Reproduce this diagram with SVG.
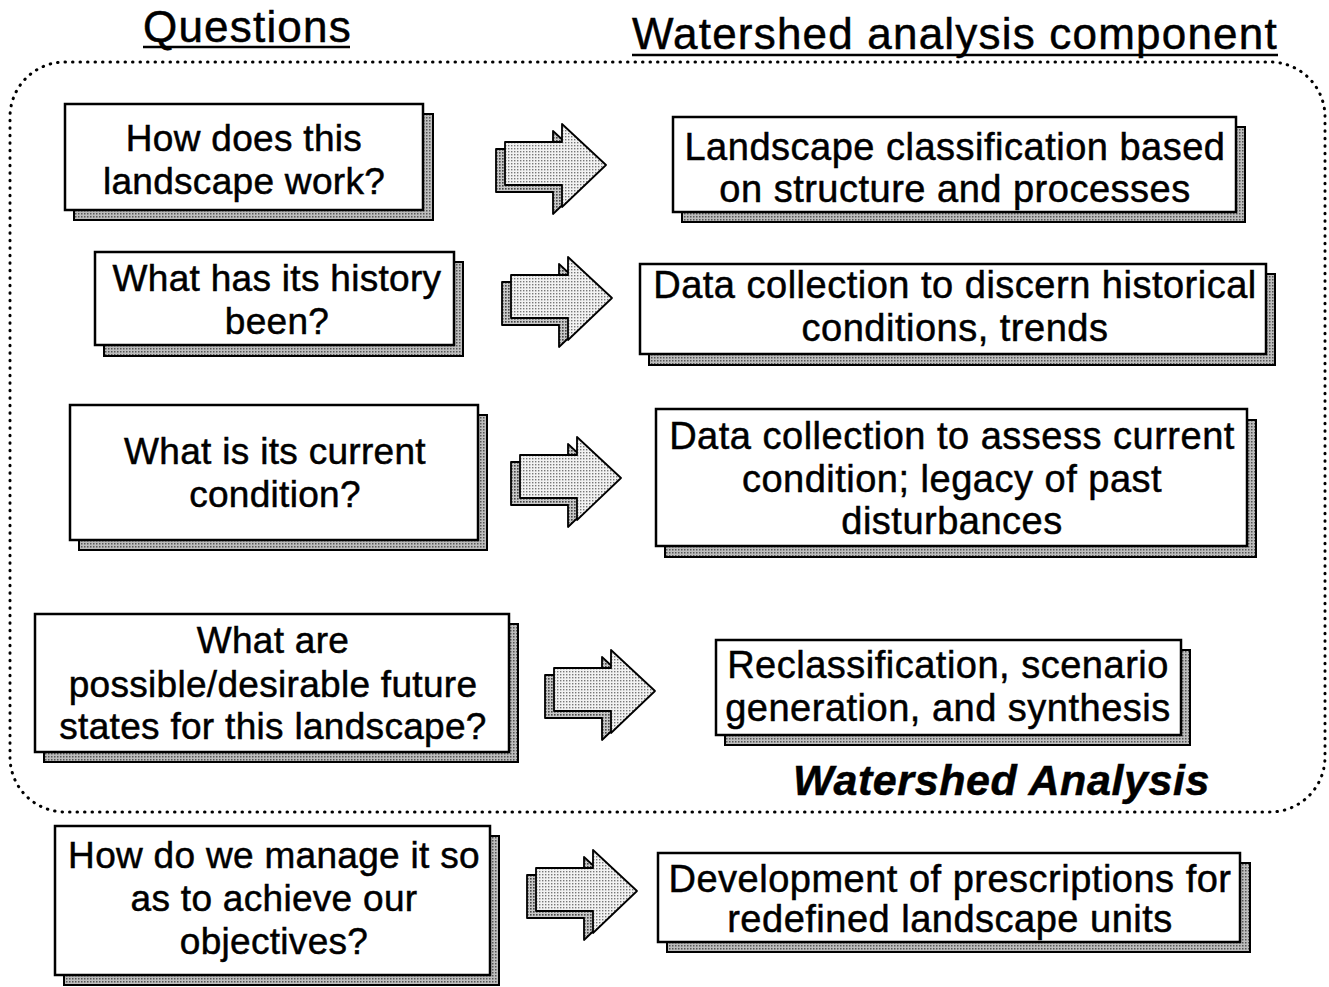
<svg xmlns="http://www.w3.org/2000/svg" width="1329" height="987" viewBox="0 0 1329 987">
<defs>
<pattern id="dots" width="3" height="3" patternUnits="userSpaceOnUse"><rect width="3" height="3" fill="#f2f2f2"/><rect width="1.4" height="1.4" fill="#777"/></pattern>
<pattern id="dotsDark" width="3" height="3" patternUnits="userSpaceOnUse"><rect width="3" height="3" fill="#c8c8c8"/><rect width="1.6" height="1.6" fill="#444"/></pattern>
<pattern id="shade" width="3" height="3" patternUnits="userSpaceOnUse"><rect width="3" height="3" fill="#bdbdbd"/><rect width="1.5" height="1.5" fill="#555"/></pattern>
<polygon id="arrowShape" points="0,18 57,18 57,0 101,41 57,83 57,61 0,61"/>
</defs>
<style>
text{font-family:"Liberation Sans",Arial,sans-serif;fill:#000;stroke:#000;stroke-width:0.5}
.t{font-size:38px;letter-spacing:0.5px;text-anchor:middle}
.tl{font-size:37px;letter-spacing:0.3px;text-anchor:middle}
.h{font-size:44px;letter-spacing:1.2px}
.box{fill:#fff;stroke:#000;stroke-width:2.5}
.sh{fill:url(#shade);stroke:#000;stroke-width:2}
.af{fill:url(#dots);stroke:#000;stroke-width:1.8;stroke-linejoin:round}
.ab{fill:url(#dotsDark);stroke:#000;stroke-width:1.8;stroke-linejoin:round}
</style>
<rect width="1329" height="987" fill="#fff"/>

<g id="titles">
<text class="h" x="143" y="42">Questions</text>
<line x1="143" y1="47" x2="350" y2="47" stroke="#000" stroke-width="2.5"/>
<text class="h" x="632" y="49">Watershed analysis component</text>
<line x1="632" y1="55" x2="1278" y2="55" stroke="#000" stroke-width="2.5"/>
</g>

<g id="watershed-analysis-frame">
<rect x="10" y="62" width="1315" height="750" rx="55" fill="none" stroke="#000" stroke-width="3" stroke-dasharray="0.5 7" stroke-linecap="round"/>
<text x="793" y="795" style="font-size:43px;letter-spacing:0.6px;font-weight:bold;font-style:italic">Watershed Analysis</text>
</g>

<g id="q1">
<rect class="sh" x="74" y="114" width="359" height="106"/>
<rect class="box" x="65" y="104" width="358" height="106"/>
<text class="tl" x="244" y="151">How does this</text>
<text class="tl" x="244" y="194">landscape work?</text>
</g>
<g id="q2">
<rect class="sh" x="104" y="262" width="359" height="94"/>
<rect class="box" x="95" y="252" width="359" height="93"/>
<text class="tl" x="277" y="291">What has its history</text>
<text class="tl" x="277" y="334">been?</text>
</g>
<g id="q3">
<rect class="sh" x="79" y="415" width="408" height="135"/>
<rect class="box" x="70" y="405" width="408" height="135"/>
<text class="tl" x="275" y="464">What is its current</text>
<text class="tl" x="275" y="507">condition?</text>
</g>
<g id="q4">
<rect class="sh" x="44" y="624" width="474" height="138"/>
<rect class="box" x="35" y="614" width="474" height="138"/>
<text class="tl" x="273" y="653">What are</text>
<text class="tl" x="273" y="697">possible/desirable future</text>
<text class="tl" x="273" y="739">states for this landscape?</text>
</g>
<g id="q5">
<rect class="sh" x="64" y="836" width="435" height="149"/>
<rect class="box" x="55" y="826" width="435" height="149"/>
<text class="tl" x="274" y="868">How do we manage it so</text>
<text class="tl" x="274" y="911">as to achieve our</text>
<text class="tl" x="274" y="954">objectives?</text>
</g>

<g id="c1">
<rect class="sh" x="682" y="127" width="563" height="95"/>
<rect class="box" x="673" y="117" width="563" height="95"/>
<text class="t" x="955" y="160">Landscape classification based</text>
<text class="t" x="955" y="202">on structure and processes</text>
</g>
<g id="c2">
<rect class="sh" x="649" y="274" width="626" height="91"/>
<rect class="box" x="640" y="264" width="626" height="90"/>
<text class="t" x="955" y="298">Data collection to discern historical</text>
<text class="t" x="955" y="341">conditions, trends</text>
</g>
<g id="c3">
<rect class="sh" x="665" y="420" width="591" height="137"/>
<rect class="box" x="656" y="409" width="591" height="137"/>
<text class="t" x="952" y="449">Data collection to assess current</text>
<text class="t" x="952" y="492">condition; legacy of past</text>
<text class="t" x="952" y="534">disturbances</text>
</g>
<g id="c4">
<rect class="sh" x="725" y="650" width="465" height="95"/>
<rect class="box" x="716" y="640" width="465" height="95"/>
<text class="t" x="948" y="678">Reclassification, scenario</text>
<text class="t" x="948" y="721">generation, and synthesis</text>
</g>
<g id="c5">
<rect class="sh" x="667" y="863" width="583" height="89"/>
<rect class="box" x="658" y="853" width="582" height="89"/>
<text class="t" x="950" y="892">Development of prescriptions for</text>
<text class="t" x="950" y="932">redefined landscape units</text>
</g>

<g id="connectors">
<g transform="translate(505,124)"><use href="#arrowShape" class="ab" x="-9" y="7"/><use href="#arrowShape" class="af"/></g>
<g transform="translate(511,257)"><use href="#arrowShape" class="ab" x="-9" y="7"/><use href="#arrowShape" class="af"/></g>
<g transform="translate(520,437)"><use href="#arrowShape" class="ab" x="-9" y="7"/><use href="#arrowShape" class="af"/></g>
<g transform="translate(554,650)"><use href="#arrowShape" class="ab" x="-9" y="7"/><use href="#arrowShape" class="af"/></g>
<g transform="translate(536,850)"><use href="#arrowShape" class="ab" x="-9" y="7"/><use href="#arrowShape" class="af"/></g>
</g>
</svg>
